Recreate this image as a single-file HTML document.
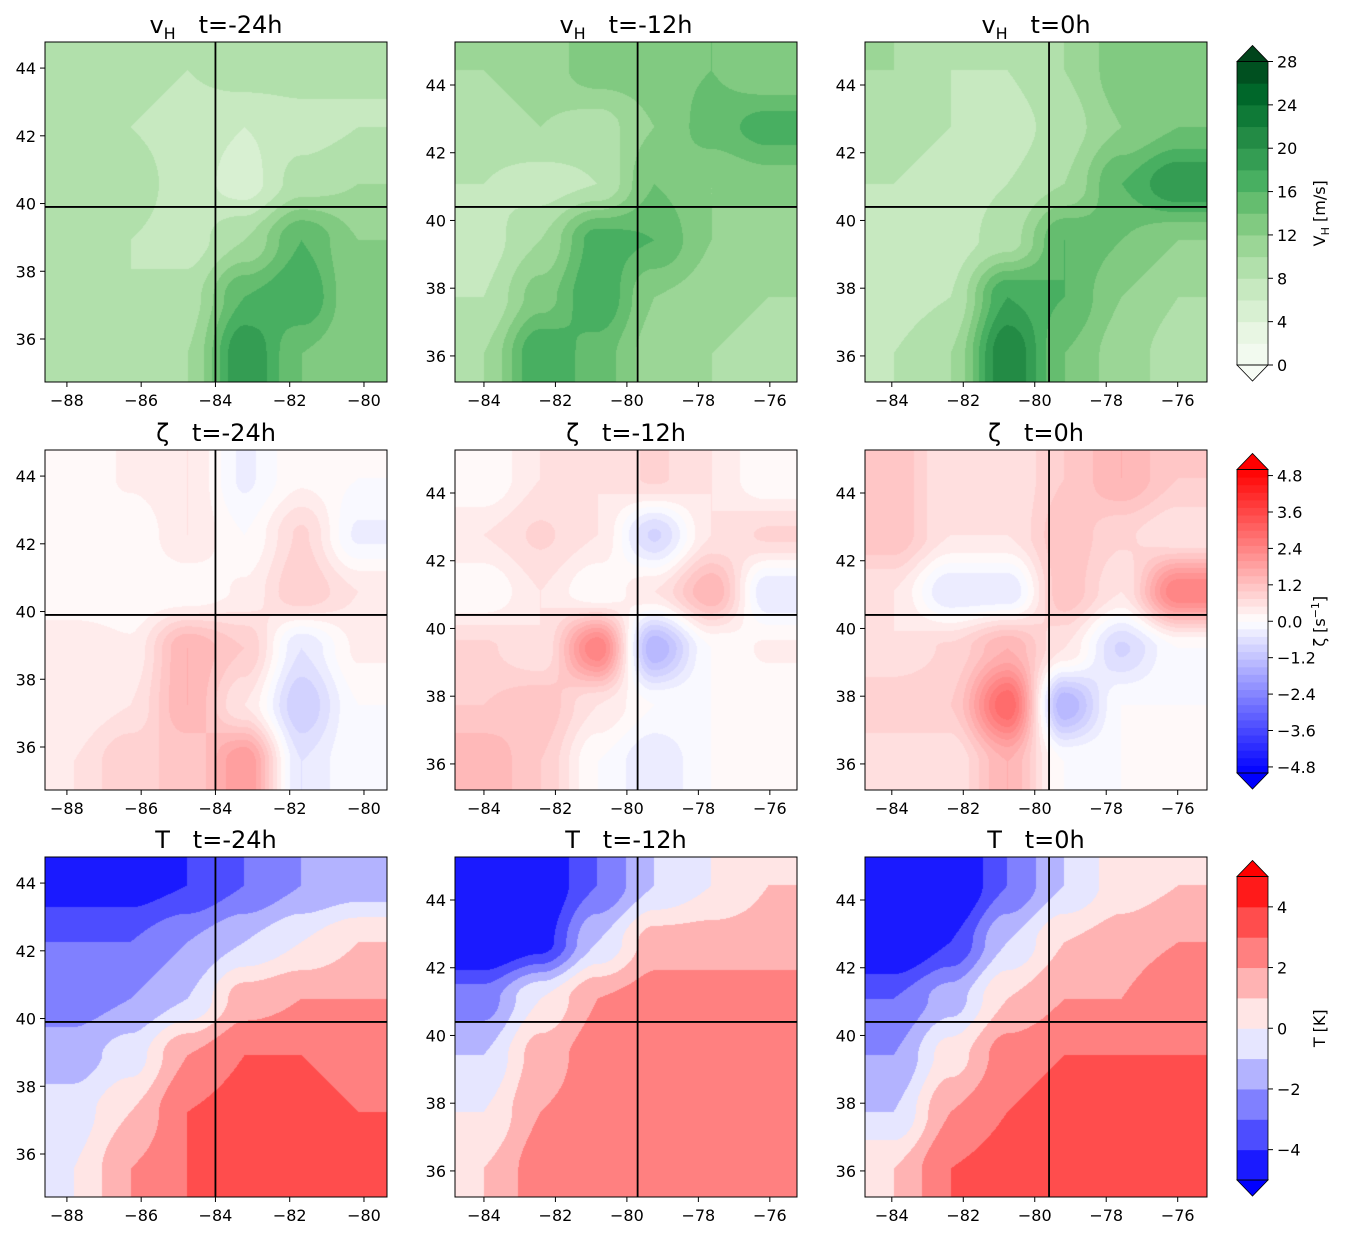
<!DOCTYPE html>
<html><head><meta charset="utf-8"><style>
body{margin:0;background:#fff;width:1363px;height:1234px;position:relative;overflow:hidden;font-family:"Liberation Sans","DejaVu Sans",sans-serif}
canvas{position:absolute}
svg{position:absolute;left:0;top:0}
text{font-family:"DejaVu Sans","Liberation Sans",sans-serif;white-space:pre}
</style></head><body>
<svg id="s" width="1363" height="1234"></svg>
<script>
// ---- data (coarse 6x6 grids, rows north->south, cols west->east) ----
const times=["-24h","-12h","0h"];
const vH_m24=[[9,9,8,9,9,8],[9,8,7,6,7,8],[8,9,7,5,9,10],[9,8,7,10,16,12],[9,8,9,16,18,12],[9,9,10,20,14,12]];
const vH_m12=[[10,11,13,13,14,12],[9,10,9,12,15,17],[8,7,8,14,12,13],[7,10,17,16,12,10],[8,13,18,12,11,10],[10,18,15,11,10,9]];
const vH_0=[[10,8,8,10,13,12],[9,8,7,9,12,14],[8,7,8,10,16,20],[7,7,9,16,14,12],[7,8,18,16,12,10],[8,10,22,14,11,9]];
const z_m24=[[0,0.3,0.5,-0.3,0.2,0],[0,0,0.5,0,0.8,-0.3],[0,0,0,0.3,1,0.5],[0.5,0.3,1.5,1,-0.5,0.3],[0.3,0.5,1.5,0.5,-1,0],[0.5,1,1,2,-0.5,0]];
const z_m12=[[0,0.5,0.5,0.8,0.5,0],[0.5,0.8,0.5,-0.8,0.5,0.8],[0,0.5,0,0.5,1.5,-0.5],[0.8,0.5,2.5,-1.5,0,0.3],[1,1.2,0.5,0,0,0],[1.5,1,0,-0.5,0,0]];
const z_0=[[1.2,0.5,0.5,1,1.5,1],[1.2,0.5,0.5,1.2,0.8,0.5],[0.5,-0.5,-0.5,1.2,0.5,2.5],[0.5,0.8,1.5,0.5,-0.8,0],[1,1,3,-1.5,0,0],[0.5,0.5,1.5,0,0,0]];
const T_m24=[[-4.5,-4.5,-4,-3,-2,-1.5],[-3,-3,-2,-1,0,1],[-2.5,-2,-1,1.5,2,2],[-1.5,-0.5,2,3,3,2.5],[-0.5,1,3,3.5,3.5,3],[0,2,3,3.5,4,4]];
const T_m12=[[-5.5,-5,-3,-1,0,1],[-5.5,-4.5,-1,1.5,1.5,1.5],[-2.5,0,2,2.5,2.5,2.5],[-1,1.5,2.5,2.5,2.5,2.5],[0,2,2.5,2.5,2.5,2.5],[1,2.5,3,3,3,2.5]];
const T_0=[[-5.5,-5.5,-3,-1,0.5,1],[-5.5,-4,-1,1,1.5,2],[-3,-1.5,1,2,2,3],[-2,0.5,2.5,3,3,3],[-1,2,3,3.5,3.5,3],[1,3,3.5,3.5,3,3]];
const crossLon=[-84,-79.7,-79.6];
const crossLat=[39.9,40.4,40.4];
const cbTicksV=[0,4,8,12,16,20,24,28];
const cbTicksZ=[-4.8,-3.6,-2.4,-1.2,0,1.2,2.4,3.6,4.8];
const cbTicksT=[-4,-2,0,2,4];
const xTicks=[[-88,-86,-84,-82,-80],[-84,-82,-80,-78,-76],[-84,-82,-80,-78,-76]];
const yTicks=[[36,38,40,42,44],[36,38,40,42,44],[36,38,40,42,44]];

const NS="http://www.w3.org/2000/svg";
const S=document.getElementById('s');
function el(t,a,p){const e=document.createElementNS(NS,t);for(const k in a)e.setAttribute(k,a[k]);(p||S).appendChild(e);return e;}
const G=["#f7fcf5","#e5f5e0","#c7e9c0","#a1d99b","#74c476","#41ab5d","#238b45","#006d2c","#00441b"].map(h=>[parseInt(h.substr(1,2),16),parseInt(h.substr(3,2),16),parseInt(h.substr(5,2),16)]);
function greens(t){t=Math.max(0,Math.min(1,t));const f=t*8,i=Math.min(7,Math.floor(f)),r=f-i;return G[i].map((c,k)=>Math.round(c+(G[i+1][k]-c)*r));}
function bwr(t){t=Math.max(0,Math.min(1,t));return t<0.5?[Math.round(510*t),Math.round(510*t),255]:[255,Math.round(510*(1-t)),Math.round(510*(1-t))];}
const rows=[
 {grids:[vH_m24,vH_m12,vH_0],vmin:0,vmax:28,n:14,cmap:greens,sym:"v",ticks:cbTicksV,top:42},
 {grids:[z_m24,z_m12,z_0],vmin:-5,vmax:5,n:40,cmap:bwr,sym:"ζ",ticks:cbTicksZ,top:450},
 {grids:[T_m24,T_m12,T_0],vmin:-5,vmax:5,n:10,cmap:bwr,sym:"T",ticks:cbTicksT,top:857}];
const lefts=[45,455,865],W=342,H=340;
const xr=[[-88.59,-79.38],[-84.81,-75.24],[-84.75,-75.18]];
const yr=[[34.73,44.77],[35.23,45.27],[35.23,45.27]];
function sm(t){return t*t*(3-2*t);}
rows.forEach((R,ri)=>{
 R.grids.forEach((g,ci)=>{
  const L=lefts[ci],T=R.top;
  const cv=document.createElement('canvas');cv.width=W;cv.height=H;cv.style.left=L+'px';cv.style.top=T+'px';
  
  document.body.insertBefore(cv,S);
  const ctx=cv.getContext('2d'),img=ctx.createImageData(W,H),nr=g.length,nc=g[0].length;
  for(let y=0;y<H;y++)for(let x=0;x<W;x++){
   let gx=(x+0.5)/W*nc-0.5,gy=(y+0.5)/H*nr-0.5;gx=Math.max(0,Math.min(nc-1.001,gx));gy=Math.max(0,Math.min(nr-1.001,gy));
   const i=Math.floor(gx),j=Math.floor(gy),u=sm(gx-i),v=sm(gy-j);
   const val=g[j][i]*(1-u)*(1-v)+g[j][i+1]*u*(1-v)+g[j+1][i]*(1-u)*v+g[j+1][i+1]*u*v;
   let k=Math.floor((val-R.vmin)/(R.vmax-R.vmin)*R.n);k=Math.max(0,Math.min(R.n-1,k));
   const c=R.cmap((k+0.5)/R.n),p=(y*W+x)*4;img.data[p]=c[0];img.data[p+1]=c[1];img.data[p+2]=c[2];img.data[p+3]=255;}
  ctx.putImageData(img,0,0);
  const X=lon=>L+(lon-xr[ci][0])/(xr[ci][1]-xr[ci][0])*W;
  const Y=lat=>T+H-(lat-yr[ci][0])/(yr[ci][1]-yr[ci][0])*H;
  let e=el('line',{x1:X(crossLon[ci]),x2:X(crossLon[ci]),y1:T,y2:T+H,stroke:'#000','stroke-width':1.8});
  
  e=el('line',{x1:L,x2:L+W,y1:Y(crossLat[ci]),y2:Y(crossLat[ci]),stroke:'#000','stroke-width':1.8});
  
  e=el('rect',{x:L,y:T,width:W,height:H,fill:'none',stroke:'#000','stroke-width':1});
  
  xTicks[ci].forEach(v=>{el('line',{x1:X(v),x2:X(v),y1:T+H,y2:T+H+5,stroke:'#000'});
   e=el('text',{x:X(v),y:T+H+24,'text-anchor':'middle','font-size':16});e.textContent=String(v).replace('-','−');
   });
  yTicks[ci].forEach(v=>{el('line',{x1:L-5,x2:L,y1:Y(v),y2:Y(v),stroke:'#000'});
   e=el('text',{x:L-9,y:Y(v)+6,'text-anchor':'end','font-size':16});e.textContent=v;
   });
  e=el('text',{x:L+W/2,y:T-9,'text-anchor':'middle','font-size':24});
  
  if(R.sym==="v"){e.innerHTML='v<tspan font-size="16" dy="6">H</tspan><tspan dy="-6">   t='+times[ci]+'</tspan>';}
  else{e.textContent=R.sym+'   t='+times[ci];}
 });
 // colorbar
 const cx=1237,cw=31,ct=R.top+19.5,cb=R.top+323,ch=cb-ct;
 const cy=v=>cb-(v-R.vmin)/(R.vmax-R.vmin)*ch;
 for(let k=0;k<R.n;k++){const c=R.cmap((k+0.5)/R.n);
  const e=el('rect',{x:cx,y:cb-(k+1)*ch/R.n-0.5,width:cw,height:ch/R.n+1,fill:'rgb('+c+')'});
  }
 const c0=R.cmap(0),c1=R.cmap(1);
 el('polygon',{points:`${cx},${ct} ${cx+cw/2},${ct-16} ${cx+cw},${ct}`,fill:'rgb('+c1+')',stroke:'#000','stroke-width':0.8});
 el('polygon',{points:`${cx},${cb} ${cx+cw/2},${cb+16} ${cx+cw},${cb}`,fill:'rgb('+c0+')',stroke:'#000','stroke-width':0.8});
 let e=el('rect',{x:cx,y:ct,width:cw,height:ch,fill:'none',stroke:'#000','stroke-width':0.8});
 
 R.ticks.forEach(v=>{el('line',{x1:cx+cw,x2:cx+cw+5,y1:cy(v),y2:cy(v),stroke:'#000'});
  const t=el('text',{x:cx+cw+9,y:cy(v)+6,'font-size':16});t.textContent=(R.sym==="ζ"?v.toFixed(1):String(v)).replace('-','−');
  });
 const lx=1325,ly=(ct+cb)/2;
 e=el('text',{x:lx,y:ly,'text-anchor':'middle','font-size':16,transform:`rotate(-90 ${lx} ${ly})`});
 
 if(R.sym==="v")e.innerHTML='V<tspan font-size="11" dy="4">H</tspan><tspan dy="-4"> [m/s]</tspan>';
 else if(R.sym==="ζ")e.innerHTML='ζ [s<tspan font-size="11" dy="-6">−1</tspan><tspan dy="6">]</tspan>';
 else e.textContent='T [K]';
});
</script>
</body></html>
